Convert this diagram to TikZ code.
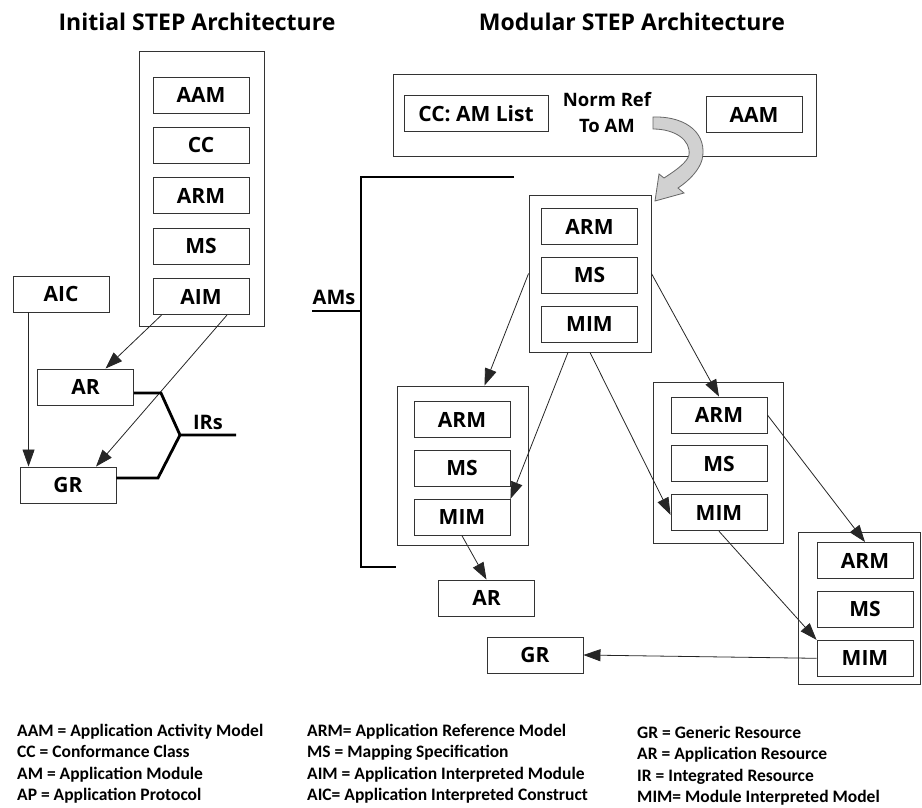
\documentclass[tikz,border=0pt]{standalone}
\usepackage{fontspec}
\setmainfont{Carlito}
\newfontfamily\boxfont{Open Sans}
\usetikzlibrary{positioning,calc,arrows.meta}
\tikzstyle{step diagram}=[
    x=1pt, y=-1pt, >={Triangle[length=17pt,width=12pt]},
    node distance=12pt and 12pt,
]
\tikzstyle{part}=[draw=black!80, line width=0.9pt, minimum width=96pt,
    minimum height=36pt, inner sep=0pt, font=\partfont]
\tikzstyle{frame}=[draw=black!80, line width=0.9pt, inner sep=0pt]
\tikzstyle{link}=[->, draw=black!85, line width=0.8pt]
\tikzstyle{bracket}=[line width=2.8pt]
\tikzstyle{title}=[font=\boxfont\bfseries\fontsize{23}{26}\selectfont]
\tikzstyle{tag}=[font=\boxfont\bfseries\fontsize{18.5}{26}\selectfont, align=center, inner sep=0pt]
\tikzstyle{legend}=[font=\bfseries\fontsize{17.5}{21.3}\selectfont, align=left,
    anchor=north west, inner sep=0pt]
\newcommand{\partfont}{\boxfont\bfseries\fontsize{21}{24}\selectfont}
\newcommand{\stepmodule}[3]{%
    \node[part] (#1arm) at (#2,#3) {ARM};
    \node[part, below=of #1arm] (#1ms) {MS};
    \node[part, below=of #1ms] (#1mim) {MIM};
}

\begin{document}
\begin{tikzpicture}[step diagram]
    \useasboundingbox (0,0) rectangle (922,807);

    \node[title] (inittitle) at (197,22) {Initial STEP Architecture};
    \node[title] (modtitle) at (632,22) {Modular STEP Architecture};

    % initial architecture
    \node[frame, minimum width=125pt, minimum height=275pt] (initcol) at (201.5,188.5) {};
    \node[part] (aam) at (201,95) {AAM};
    \node[part, below=13.5pt of aam] (cc) {CC};
    \node[part, below=13.5pt of cc] (arm) {ARM};
    \node[part, below=13.5pt of arm] (ms) {MS};
    \node[part, below=13.5pt of ms] (aim) {AIM};
    \node[part] (aic) at (61,294) {AIC};
    \node[part] (ar) at (85.5,387) {AR};
    \node[part] (gr) at (68,485) {GR};

    \path
        ([xshift=16pt]aic.south west) edge[link] ([xshift=16pt]aic.south west |- gr.north)
        ([xshift=9pt]aim.south west) edge[link] ([xshift=20pt]ar.north)
        ([xshift=26pt]aim.south) edge[link] ([xshift=28pt]gr.north)
    ;

    \coordinate (irfork) at (180,435);
    \draw[bracket] ([yshift=-6pt]ar.east) -- ++(27,0) -- (irfork) -- ++(56,0);
    \draw[bracket] (irfork) -- ++(-22,43) -- ([yshift=7pt]gr.east);
    \node[tag, font=\boxfont\bfseries\fontsize{20}{24}\selectfont] (irs) at (208,422) {IRs};

    % modular architecture
    \node[frame, minimum width=423pt, minimum height=82pt] (apframe) at (604.5,115) {};
    \node[part, minimum width=144pt] (ccam) at (476,113.5) {CC: AM List};
    \node[part] (aamtop) at (754,114.5) {AAM};
    \node[tag] (normref) at (607,113) {Norm Ref\\To AM};
    \draw[draw=black!60, fill=black!18, line width=0.8pt]
        (653,117) .. controls (688,116) and (708,135) .. (702,160)
        .. controls (699,170) and (690,180) .. (678,188)
        -- (684,193) -- (655,201) -- (659,174) -- (664,178)
        .. controls (678,169) and (687,162) .. (689,155)
        .. controls (691,140) and (675,129) .. (653,129) -- cycle;

    \coordinate (amtop) at (514,177);
    \coordinate (amspine) at (361,311);
    \coordinate (amstub) at (312,311);
    \coordinate (ambot) at (396,567);
    \draw[bracket] (amtop) -| (amspine) |- (ambot);
    \draw[bracket] (amstub) -- (amspine);
    \node[tag, font=\boxfont\bfseries\fontsize{20}{24}\selectfont] (ams) at (334,297) {AMs};

    \node[frame, minimum width=122pt, minimum height=157pt] (m1) at (590,273.5) {};
    \stepmodule{m1}{589.5}{226.5}
    \node[frame, minimum width=131pt, minimum height=159pt] (m2) at (462.5,465.5) {};
    \stepmodule{m2}{462}{419.5}
    \node[frame, minimum width=130pt, minimum height=161pt] (m3) at (718,462.5) {};
    \stepmodule{m3}{719}{415}
    \node[frame, minimum width=122pt, minimum height=152pt] (m4) at (859,608) {};
    \stepmodule{m4}{865}{560.5}
    \node[part] (ar2) at (486.5,598) {AR};
    \node[part] (gr2) at (535,655) {GR};

    \path
        (m1.west) edge[link] ([xshift=22pt]m2.north)
        ([xshift=-22pt]m1.south) edge[link] (m2mim.north east)
        (m1.south) edge[link] ([yshift=-2pt]m3mim.west)
        (m1.east) edge[link] (m3arm.north)
        (m3arm.east) edge[link] (m4arm.north)
        (m3mim.south) edge[link] (m4mim.north west)
        (m4mim.west) edge[link] (gr2.east)
        (m2mim.south) edge[link] (ar2.north)
    ;

    % legend
    \node[legend] (leg1) at (17,724) {AAM = Application Activity Model\\CC = Conformance Class\\AM = Application Module\\AP = Application Protocol};
    \node[legend] (leg2) at (307,724) {ARM= Application Reference Model\\MS = Mapping Specification\\AIM = Application Interpreted Module\\AIC= Application Interpreted Construct};
    \node[legend] (leg3) at (637,726) {GR = Generic Resource\\AR = Application Resource\\IR = Integrated Resource\\MIM= Module Interpreted Model};
\end{tikzpicture}
\end{document}
